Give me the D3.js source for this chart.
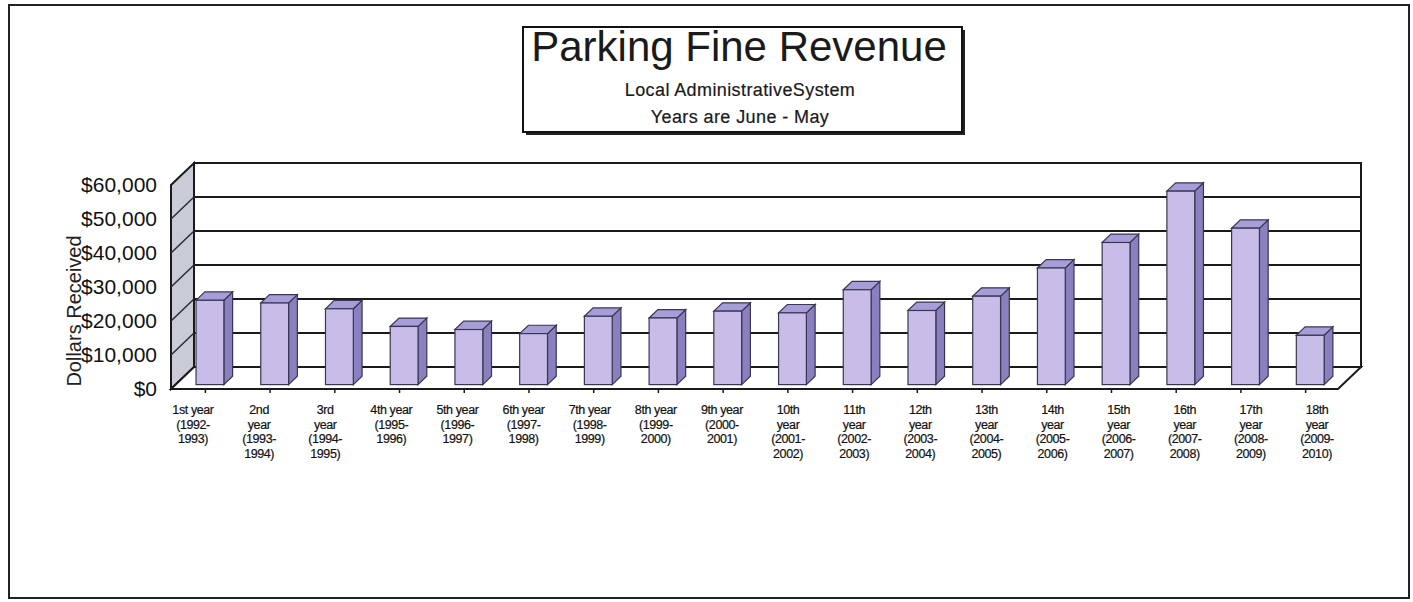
<!DOCTYPE html>
<html>
<head>
<meta charset="utf-8">
<script src="https://cdn.jsdelivr.net/npm/d3@7"></script>
<style>
  body { margin: 0; background: #fff; }
  svg { display: block; font-family: Arial, "Liberation Sans", sans-serif; }
</style>
</head>
<body>
<svg id="chart" width="1413" height="602"></svg>
<script>
// ---- data ----
var categories = [
  "1st year\n(1992-\n1993)", "2nd\nyear\n(1993-\n1994)", "3rd\nyear\n(1994-\n1995)",
  "4th year\n(1995-\n1996)", "5th year\n(1996-\n1997)", "6th year\n(1997-\n1998)",
  "7th year\n(1998-\n1999)", "8th year\n(1999-\n2000)", "9th year\n(2000-\n2001)",
  "10th\nyear\n(2001-\n2002)", "11th\nyear\n(2002-\n2003)", "12th\nyear\n(2003-\n2004)",
  "13th\nyear\n(2004-\n2005)", "14th\nyear\n(2005-\n2006)", "15th\nyear\n(2006-\n2007)",
  "16th\nyear\n(2007-\n2008)", "17th\nyear\n(2008-\n2009)", "18th\nyear\n(2009-\n2010)"
];
var revenue = [24800, 24000, 22300, 17100, 16200, 15000, 20100, 19600, 21600,
               21100, 27900, 21800, 26000, 34300, 41800, 56900, 46000, 14500];
var yTicks = [0, 10000, 20000, 30000, 40000, 50000, 60000];
var titleLines = ["Local AdministrativeSystem", "Years are June - May"];

var svg = d3.select("#chart");

// 3d offsets (full floor depth)
var DX = 23, DY = -22;
var barFront = 0.2, barBack = 0.58;

var x = d3.scaleBand().domain(categories).range([173, 1338]).padding(0);
// labels sit a bit wider apart than the bars in the original
var xLab = d3.scalePoint().domain(categories).range([193, 1317]);
var y = d3.scaleLinear().domain([0, 60000]).range([389, 185]);
var x0 = 171, x1 = x.range()[1];

// outer frame
svg.append("rect")
  .attr("x", 9).attr("y", 5).attr("width", 1400).attr("height", 593)
  .attr("fill", "none").attr("stroke", "#222").attr("stroke-width", 2);

// title box with shadow
svg.append("rect")
  .attr("x", 526).attr("y", 30).attr("width", 439).attr("height", 105)
  .attr("fill", "#222");
svg.append("rect")
  .attr("x", 523).attr("y", 27).attr("width", 439).attr("height", 105)
  .attr("fill", "#fff").attr("stroke", "#111").attr("stroke-width", 2);
svg.append("text")
  .attr("x", 739).attr("y", 61)
  .attr("text-anchor", "middle")
  .style("font-size", "42px").style("fill", "#1a1a1a")
  .text("Parking Fine Revenue");
svg.selectAll(".sub").data(titleLines).enter().append("text")
  .attr("class", "sub")
  .attr("x", 740).attr("y", function(d, i) { return 96 + i * 26.5; })
  .attr("text-anchor", "middle")
  .style("font-size", "18px").style("letter-spacing", "0.4px").style("fill", "#1a1a1a")
  .style("stroke", "#1a1a1a").style("stroke-width", 0.2)
  .text(function(d) { return d; });

var plot = svg.append("g");

// back wall
plot.append("rect")
  .attr("x", x0 + DX).attr("y", y(60000) + DY)
  .attr("width", x1 - x0).attr("height", y(0) - y(60000))
  .attr("fill", "#fff").attr("stroke", "#1a1a1a").attr("stroke-width", 2);

// side wall
var side = [[x0, y(0)], [x0, y(60000)], [x0 + DX, y(60000) + DY], [x0 + DX, y(0) + DY]];
plot.append("polygon")
  .attr("points", side.join(" "))
  .attr("fill", "#c9ccd6").attr("stroke", "#1a1a1a").attr("stroke-width", 2);

// floor
var floor = [[x0, y(0)], [x1, y(0)], [x1 + DX, y(0) + DY], [x0 + DX, y(0) + DY]];
plot.append("polygon")
  .attr("points", floor.join(" "))
  .attr("fill", "#fff").attr("stroke", "#1a1a1a").attr("stroke-width", 2);

// gridlines on back wall + diagonals on side wall
plot.selectAll(".grid").data(yTicks.slice(1, -1)).enter().append("line")
  .attr("class", "grid")
  .attr("x1", x0 + DX).attr("x2", x1 + DX)
  .attr("y1", function(d) { return y(d) + DY; })
  .attr("y2", function(d) { return y(d) + DY; })
  .attr("stroke", "#1a1a1a").attr("stroke-width", 2);
plot.selectAll(".diag").data(yTicks.slice(1, -1)).enter().append("line")
  .attr("class", "diag")
  .attr("x1", x0).attr("x2", x0 + DX)
  .attr("y1", function(d) { return y(d); })
  .attr("y2", function(d) { return y(d) + DY; })
  .attr("stroke", "#2a2a3a").attr("stroke-width", 1.5);

// category ticks on floor front
plot.selectAll(".xtick").data(categories).enter().append("line")
  .attr("class", "xtick")
  .attr("x1", function(d) { return x(d) + x.bandwidth() / 2; })
  .attr("x2", function(d) { return x(d) + x.bandwidth() / 2; })
  .attr("y1", y(0)).attr("y2", y(0) + 4)
  .attr("stroke", "#1a1a1a").attr("stroke-width", 1.5);

// bars
var bw = x.bandwidth() * 0.43;
var fdx = barFront * DX, fdy = barFront * DY;
var bdx = barBack * DX, bdy = barBack * DY;

var bars = plot.selectAll(".bar").data(categories).enter().append("g").attr("class", "bar");
bars.each(function(d, i) {
  var g = d3.select(this);
  var cx = x(d) + x.bandwidth() / 2;
  var l = cx - bw / 2 + fdx, r = cx + bw / 2 + fdx;
  var b = y(0) + fdy, t = y(revenue[i]) + fdy;
  var ox = bdx - fdx, oy = bdy - fdy;
  g.append("polygon")
    .attr("points", [[r, t], [r + ox, t + oy], [r + ox, b + oy], [r, b]].join(" "))
    .attr("fill", "#8a80bf").attr("stroke", "#3b3652").attr("stroke-width", 1.2);
  g.append("polygon")
    .attr("points", [[l, t], [r, t], [r + ox, t + oy], [l + ox, t + oy]].join(" "))
    .attr("fill", "#a69ed8").attr("stroke", "#3b3652").attr("stroke-width", 1.2);
  g.append("rect")
    .attr("x", l).attr("y", t).attr("width", bw).attr("height", b - t)
    .attr("fill", "#c8bce8").attr("stroke", "#3b3652").attr("stroke-width", 1.2);
});

// y axis labels
var yAxis = d3.axisLeft(y).tickValues(yTicks).tickFormat(d3.format("$,")).tickSize(0).tickPadding(14);
var ya = svg.append("g").attr("transform", "translate(" + x0 + ",0)").call(yAxis);
ya.select(".domain").remove();
ya.selectAll("text")
  .style("font-size", "21px").style("font-family", "Arial, 'Liberation Sans', sans-serif")
  .attr("fill", "#111");

// y title, overlapping the dollar signs as in the original
svg.append("text")
  .attr("transform", "translate(81,311) rotate(-90)")
  .attr("text-anchor", "middle")
  .style("font-size", "20px").style("fill", "#222")
  .text("Dollars Received");

// x labels
var xl = svg.selectAll(".xlab").data(categories).enter().append("text")
  .attr("class", "xlab")
  .attr("text-anchor", "middle")
  .attr("x", function(d) { return xLab(d); })
  .attr("y", 414)
  .style("font-size", "12.5px").style("letter-spacing", "-0.4px").style("fill", "#111")
  .style("stroke", "#111").style("stroke-width", 0.2);
xl.each(function(d) {
  var t = d3.select(this);
  var xx = t.attr("x");
  d.split("\n").forEach(function(line, k) {
    t.append("tspan").attr("x", xx).attr("dy", k === 0 ? 0 : 14.5).text(line);
  });
});
</script>
</body>
</html>
